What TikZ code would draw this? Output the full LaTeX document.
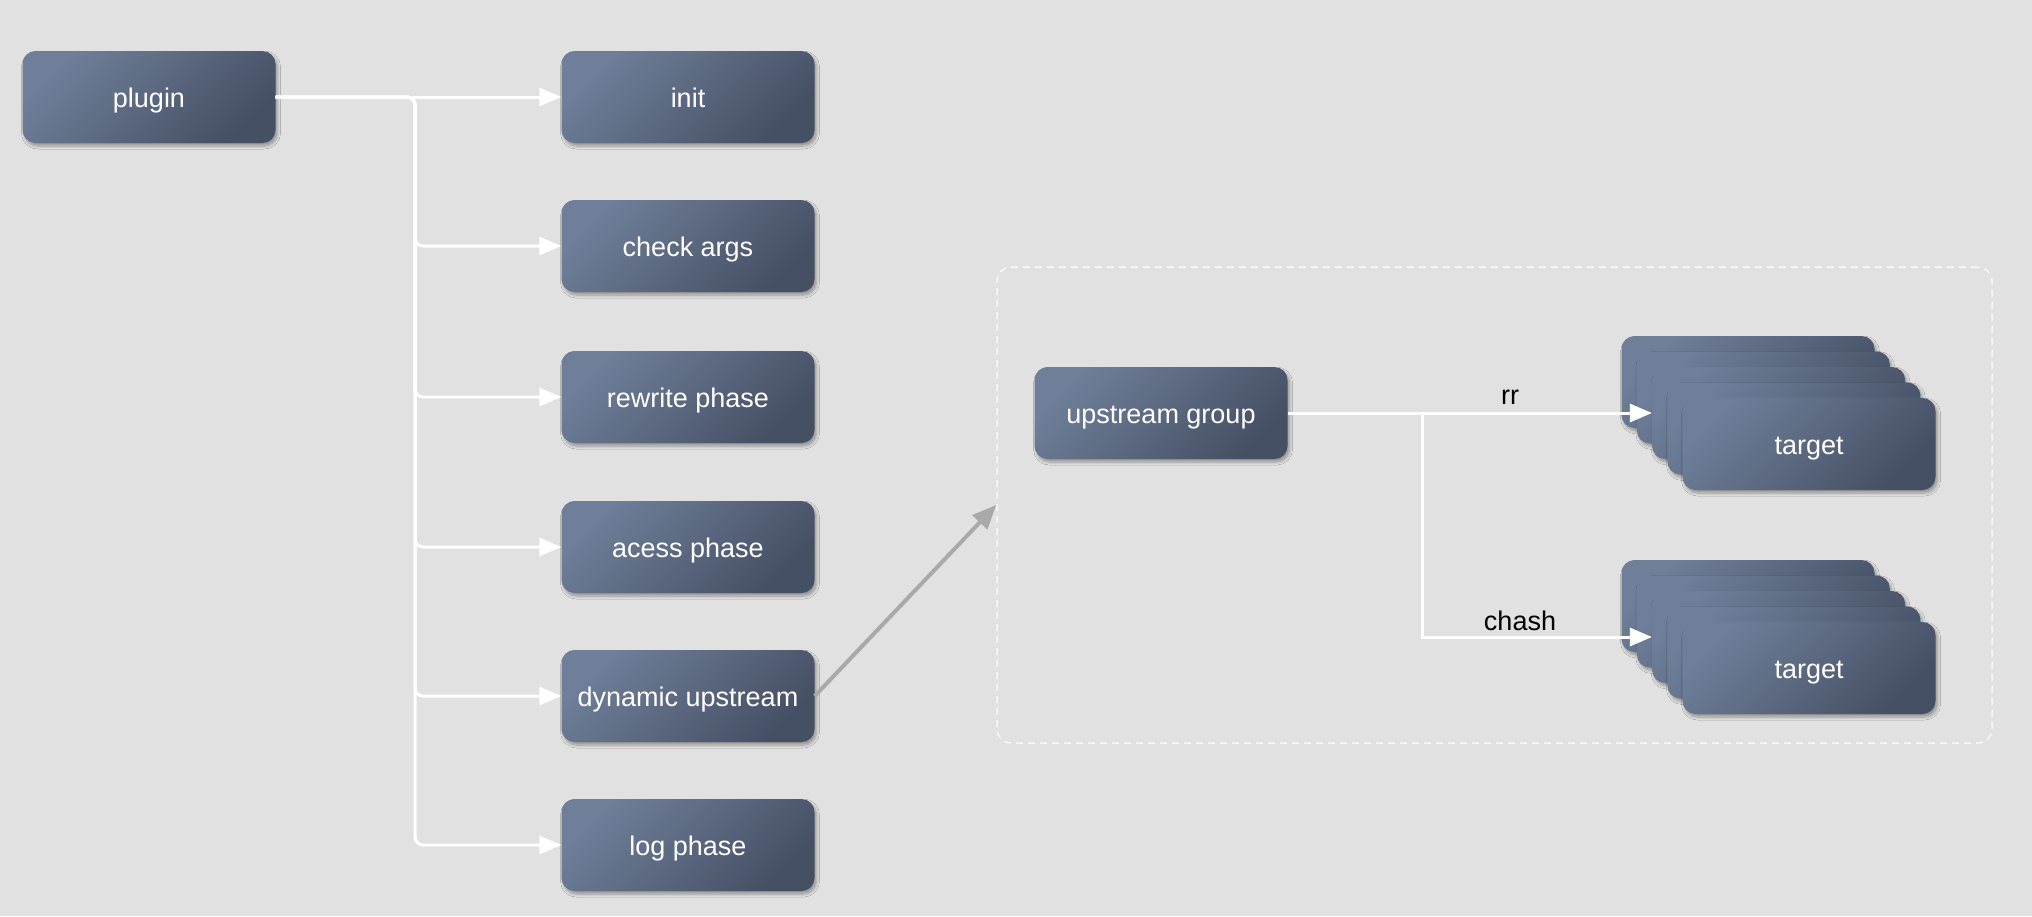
\documentclass[tikz,border=0pt]{standalone}
\usepackage{fontspec}
\setmainfont{Liberation Sans}
\usetikzlibrary{arrows.meta,shadows.blur,calc}
\definecolor{bg}{HTML}{E1E1E1}
\definecolor{boxtl}{HTML}{6F7F99}
\definecolor{boxbr}{HTML}{465065}
\definecolor{grayarr}{HTML}{A9A9A9}
\definecolor{dashc}{HTML}{F7F7F7}
\begin{document}
\begin{tikzpicture}[x=1pt,y=-1pt,
  box/.style={rectangle, rounded corners=13pt, minimum width=253pt, minimum height=92pt,
    top color=boxtl, bottom color=boxbr, shading angle=45, text=white, inner sep=0pt,
    font=\fontsize{27}{32}\selectfont, text height=21pt, text depth=1pt,
    blur shadow={shadow xshift=2pt, shadow yshift=-3pt, shadow blur steps=6, shadow opacity=35, shadow blur radius=3pt}},
  warr/.style={draw=white, line width=3pt, rounded corners=8pt, -{Triangle[length=22pt,width=18pt]}},
  lbl/.style={text=black, font=\fontsize{27}{32}\selectfont, inner sep=0pt}
]
\fill[bg] (0,0) rectangle (2032,916);
\useasboundingbox (0,0) rectangle (2032,916);

% left column
\node[box] (plugin) at (149,97) {plugin};
\node[box] (init) at (688,97) {init};
\node[box] (check) at (688,246) {check args};
\node[box] (rewrite) at (688,397) {rewrite phase};
\node[box] (acess) at (688,547) {acess phase};
\node[box] (dyn) at (688,696) {dynamic upstream};
\node[box] (log) at (688,845) {log phase};

\coordinate (tr) at (415,97);
\draw[warr] (plugin.east) -- (init.west);
\draw[warr] (plugin.east) -- (tr) |- (check.west);
\draw[warr] (plugin.east) -- (tr) |- (rewrite.west);
\draw[warr] (plugin.east) -- (tr) |- (acess.west);
\draw[warr] (plugin.east) -- (tr) |- (dyn.west);
\draw[warr] (plugin.east) -- (tr) |- (log.west);

% group
\node[draw=dashc, line width=1.5pt, dash pattern=on 7pt off 5pt, rounded corners=14pt,
  minimum width=995pt, minimum height=476pt, inner sep=0pt] (grp) at (1494.5,505) {};
\draw[draw=grayarr, line width=4pt, -{Triangle[length=24pt,width=20pt]}] (dyn.east) -- (grp.west);

\node[box] (ug) at (1161,413) {upstream group};

% target stacks
\foreach \i in {0,...,3}{
  \node[box] (ta\i) at ({1748+15.3*\i},{382+15.5*\i}) {};
}
\node[box] (ta4) at (1809,444) {target};
\foreach \i in {0,...,3}{
  \node[box] (tb\i) at ({1748+15.3*\i},{606+15.5*\i}) {};
}
\node[box] (tb4) at (1809,668) {target};

\coordinate (br) at (1422,413);
\draw[warr, rounded corners=0pt] (ug.east) -- (ta2.west);
\draw[warr, rounded corners=0pt] (br) |- (tb2.west);
\node[lbl] (rr) at (1510,397) {rr};
\node[lbl] (chash) at (1520,621) {chash};
\end{tikzpicture}
\end{document}
